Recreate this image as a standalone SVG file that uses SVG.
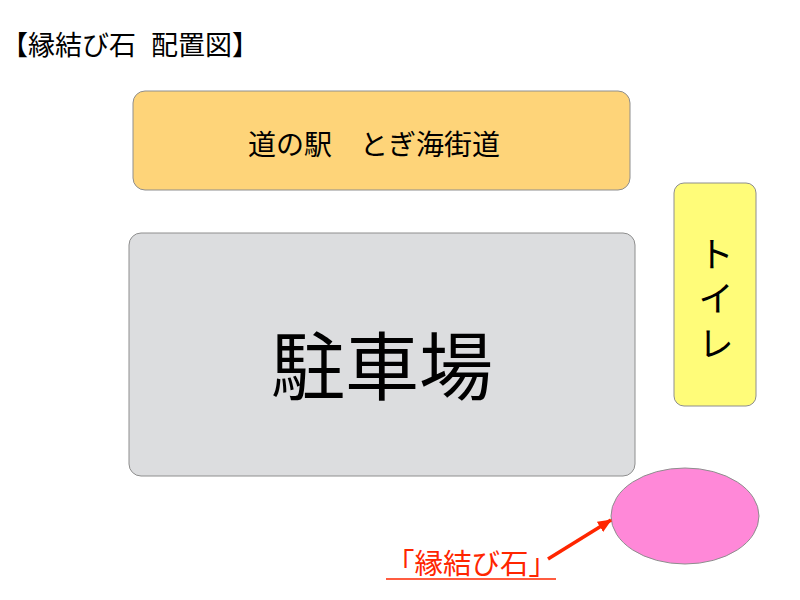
<svg xmlns="http://www.w3.org/2000/svg" width="800" height="600" viewBox="0 0 800 600">
<defs>
<style>
text{font-family:"Noto Sans CJK JP","Noto Sans CJK SC",sans-serif;fill:#000}
.box{stroke:#8e8e8e;stroke-width:1}
</style>
<marker id="ah" markerWidth="14" markerHeight="12" refX="13" refY="6" orient="auto" markerUnits="userSpaceOnUse">
<path d="M0,0 L14,6 L0,12 Z" fill="#ff2600"/>
</marker>
</defs>
<rect width="800" height="600" fill="#fff"/>
<text x="1" y="55" font-size="27">【縁結び石<tspan x="151">配置図】</tspan></text>
<g id="michinoeki">
<rect class="box" x="133" y="91" width="497" height="99" rx="12" fill="#fed479"/>
<text x="374" y="155" font-size="28" text-anchor="middle">道の駅　とぎ海街道</text>
</g>
<g id="parking">
<rect class="box" x="129" y="233" width="506" height="243" rx="12" fill="#dcdddf"/>
<text x="382" y="394" font-size="74" text-anchor="middle">駐車場</text>
</g>
<g id="toilet">
<rect class="box" x="674" y="183" width="82" height="223" rx="10" fill="#fffc79"/>
<text x="716" y="236" font-size="36" style="writing-mode:vertical-rl;letter-spacing:8.5px">トイレ</text>
</g>
<g id="stone">
<ellipse class="box" cx="685" cy="516" rx="74" ry="48" fill="#ff88d8"/>
</g>
<g id="label">
<text x="386" y="574" font-size="28.5" style="fill:#ff2600">「縁結び石」</text>
<line x1="386" y1="579" x2="556" y2="579" stroke="#ff2600" stroke-width="1.5"/>
</g>
<g id="connectors">
<line x1="548" y1="559" x2="611" y2="520" stroke="#ff2600" stroke-width="3.5" marker-end="url(#ah)"/>
</g>
</svg>
